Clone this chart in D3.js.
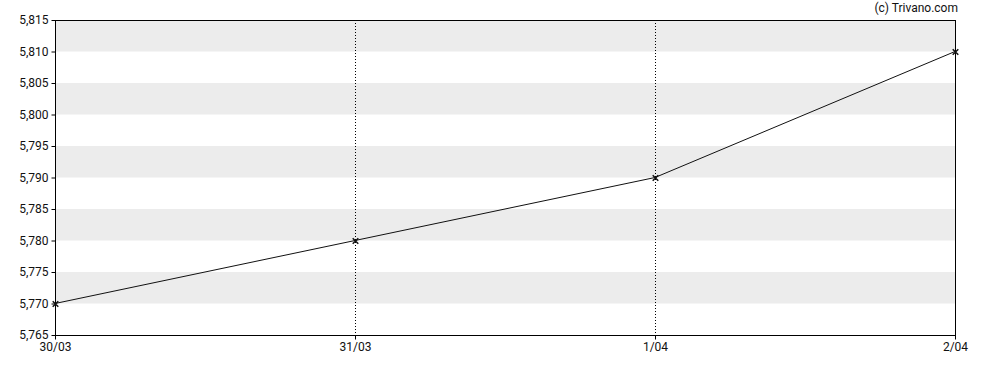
<!DOCTYPE html>
<html>
<head>
<meta charset="utf-8">
<script src="https://cdn.jsdelivr.net/npm/d3@7"></script>
<style>
body { margin: 0; background: #fff; }
svg text { font-family: Roboto, sans-serif; font-size: 12px; fill: #111; }
</style>
</head>
<body>
<div id="chart"></div>
<script>
// data
var dates = ["30/03", "31/03", "1/04", "2/04"];
var prices = [5.770, 5.780, 5.790, 5.810];
var yTicks = [5.765, 5.770, 5.775, 5.780, 5.785, 5.790, 5.795, 5.800, 5.805, 5.810, 5.815];

var width = 988,
	height = 370;
var margin = {top: 20, right: 33, bottom: 35, left: 55};

var svg = d3.select("#chart").append("svg")
	.attr("width", width)
	.attr("height", height);

var xScale = d3.scalePoint()
	.domain(dates)
	.range([margin.left, width - margin.right]);

var yScale = d3.scaleLinear()
	.domain([5.765, 5.815])
	.range([height - margin.bottom, margin.top]);

var fmt = function(d){ return d3.format(".3f")(d).replace(".", ","); };

// grey bands, every other interval starting from the top
for (var i = 0; i < yTicks.length - 1; i++) {
	if ((yTicks.length - 2 - i) % 2 == 0) {
		svg.append("rect")
			.attr("x", margin.left)
			.attr("width", width - margin.right - margin.left)
			.attr("y", yScale(yTicks[i + 1]))
			.attr("height", yScale(yTicks[i]) - yScale(yTicks[i + 1]))
			.style("fill", "#ececec");
	}
}

// dotted vertical lines at the inner dates
svg.selectAll(".vline").data(dates.slice(1, -1))
	.enter().append("line")
		.attr("x1", function(d){ return xScale(d) + 0.5; })
		.attr("x2", function(d){ return xScale(d) + 0.5; })
		.attr("y1", margin.top)
		.attr("y2", height - margin.bottom)
		.style("stroke", "#000")
		.style("stroke-dasharray", "1,2");

// frame
svg.append("rect")
	.attr("x", margin.left + 0.5)
	.attr("y", margin.top + 0.5)
	.attr("width", width - margin.right - margin.left)
	.attr("height", height - margin.bottom - margin.top)
	.style("fill", "none")
	.style("stroke", "#000");

var yAxis = svg.append("g")
	.attr("transform", "translate(" + (margin.left + 0.5) + ",0)")
	.call(d3.axisLeft(yScale).tickValues(yTicks).tickFormat(fmt).tickSize(4).tickPadding(3));

var xAxis = svg.append("g")
	.attr("transform", "translate(0," + (height - margin.bottom + 0.5) + ")")
	.call(d3.axisBottom(xScale).tickSize(4).tickPadding(3));

svg.selectAll(".domain").remove();
svg.selectAll(".tick line").style("stroke", "#000");
svg.selectAll(".tick text").style("fill", "#111").style("font-size", "12px");

// price line
var line = d3.line()
	.x(function(d, i){ return xScale(dates[i]); })
	.y(function(d){ return yScale(d); });

svg.append("path")
	.datum(prices)
	.attr("d", line)
	.style("fill", "none")
	.style("stroke", "#111")
	.style("stroke-width", 1);

// x markers
var sym = d3.symbol().type(d3.symbolX).size(22);
svg.selectAll(".pt").data(prices)
	.enter().append("path")
		.attr("d", sym)
		.attr("transform", function(d, i){
			return "translate(" + (xScale(dates[i]) + 0.5) + "," + (yScale(d) + 0.5) + ")";
		})
		.style("fill", "none")
		.style("stroke", "#111")
		.style("stroke-width", 1.5);

svg.append("text")
	.attr("x", width - margin.right + 3)
	.attr("y", 12)
	.attr("text-anchor", "end")
	.text("(c) Trivano.com");
</script>
</body>
</html>
